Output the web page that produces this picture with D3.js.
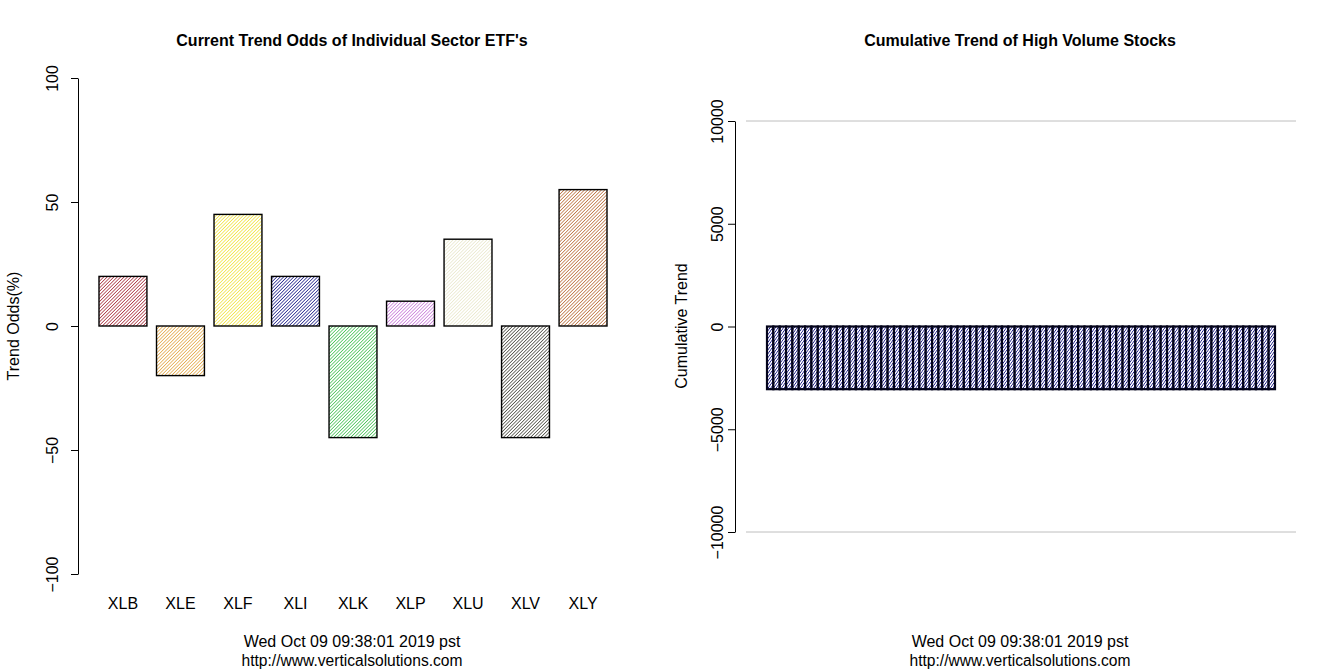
<!DOCTYPE html>
<html><head><meta charset="utf-8">
<script src="https://cdn.jsdelivr.net/npm/d3@7/dist/d3.min.js"></script>
<style>
html,body{margin:0;padding:0;background:#fff;}
text{font-family:"Liberation Sans",Arial,sans-serif;fill:#000;}
</style></head>
<body>
<svg id="c" width="1336" height="672"></svg>
<script>
// ---- data ----
const sectors = ["XLB","XLE","XLF","XLI","XLK","XLP","XLU","XLV","XLY"];
const trendOdds = [20, -20, 45, 20, -45, 10, 35, -45, 55];
const sectorColors = ["#9b1020","#e09a2a","#f0e020","#00007a","#28b83a","#c065d4","#e6e5c4","#2c2c22","#b05a20"];
const leftTicks = [-100, -50, 0, 50, 100];
const stockTrend = [
 -3050,-3050,-3050,-3050,-3050,-3050,-3050,-3050,-3050,-3050,
 -3050,-3050,-3050,-3050,-3050,-3050,-3050,-3050,-3050,-3050,
 -3050,-3050,-3050,-3050,-3050,-3050,-3050,-3050,-3050,-3050,
 -3050,-3050,-3050,-3050,-3050,-3050,-3050,-3050,-3050,-3050,
 -3050,-3050,-3050,-3050,-3050,-3050,-3050,-3050,-3050,-3050,
 -3050,-3050,-3050,-3050,-3050,-3050,-3050,-3050,-3050,-3050,
 -3050,-3050,-3050,-3050,-3050,-3050,-3050,-3050,-3050,-3050,
 -3050,-3050,-3050,-3050,-3050,-3050,-3050,-3050,-3050,-3050];
const rightTicks = [-10000, -5000, 0, 5000, 10000];
const stamp = "Wed Oct 09 09:38:01 2019 pst";
const url = "http://www.verticalsolutions.com";

const svg = d3.select("#c");
const defs = svg.append("defs");
function hatch(id, color, spacing, sw, ang){
  const p = defs.append("pattern").attr("id", id).attr("patternUnits","userSpaceOnUse")
    .attr("width", spacing).attr("height", spacing)
    .attr("patternTransform","rotate(" + ang + ")");
  p.append("rect").attr("width",spacing).attr("height",spacing).attr("fill","#fff");
  p.append("line").attr("x1",0).attr("y1",0).attr("x2",0).attr("y2",spacing)
    .attr("stroke",color).attr("stroke-width",sw);
}
sectorColors.forEach((c,i)=>hatch("h"+i, c, 2.4, 1.3, 45));
hatch("hn", "#0a0a80", 2.2, 1.4, 35);

const FS = 16;

// ---- left chart ----
const yL = d3.scaleLinear().domain([-100,100]).range([574,78]);
const xL = d3.scaleBand().domain(sectors).range([99, 607]).paddingInner(1/6).paddingOuter(0);
const gL = svg.append("g");
gL.selectAll("rect.bar").data(sectors).join("rect").attr("class","bar")
  .attr("x", d=>xL(d)).attr("width", xL.bandwidth())
  .attr("y", (d,i)=>yL(Math.max(0,trendOdds[i])))
  .attr("height", (d,i)=>Math.abs(yL(trendOdds[i])-yL(0)))
  .attr("fill",(d,i)=>"url(#h"+i+")").attr("stroke","#000").attr("stroke-width",1.4);

const axL = gL.append("g").attr("transform","translate(78,0)")
  .call(d3.axisLeft(yL).tickValues(leftTicks).tickSize(7).tickSizeOuter(0).tickFormat(d3.format("d")));
axL.select(".domain").attr("stroke","#000");
axL.selectAll(".tick line").attr("stroke","#000");
axL.selectAll(".tick text").attr("font-size",FS).attr("font-family","Liberation Sans, Arial")
  .attr("transform","rotate(-90)").attr("x",0).attr("y",-26).attr("dy","0.35em").attr("text-anchor","middle");

gL.selectAll("text.xl").data(sectors).join("text").attr("class","xl")
  .attr("x", d=>xL(d)+xL.bandwidth()/2).attr("y", 609).attr("text-anchor","middle")
  .attr("font-size",FS).text(d=>d);

gL.append("text").attr("x",352).attr("y",46).attr("text-anchor","middle")
  .attr("font-size",FS).attr("font-weight","bold").text("Current Trend Odds of Individual Sector ETF's");
gL.append("text").attr("transform","translate(19,326) rotate(-90)").attr("text-anchor","middle")
  .attr("font-size",FS).text("Trend Odds(%)");
gL.append("text").attr("x",352).attr("y",647).attr("text-anchor","middle").attr("font-size",FS).text(stamp);
gL.append("text").attr("x",352).attr("y",666).attr("text-anchor","middle").attr("font-size",15.6).text(url);

// ---- right chart ----
const yR = d3.scaleLinear().domain([-10000,10000]).range([532,121]);
const xR = d3.scaleBand().domain(d3.range(stockTrend.length)).range([767,1275]).padding(0);
const gR = svg.append("g");
gR.selectAll("line.grid").data([-10000,10000]).join("line").attr("class","grid")
  .attr("x1",746).attr("x2",1296).attr("y1",d=>yR(d)).attr("y2",d=>yR(d))
  .attr("stroke","#bebebe").attr("stroke-width",1);
gR.selectAll("rect.bar").data(stockTrend).join("rect").attr("class","bar")
  .attr("x",(d,i)=>xR(i)).attr("width",xR.bandwidth())
  .attr("y",d=>yR(Math.max(0,d))).attr("height",d=>Math.abs(yR(d)-yR(0)))
  .attr("fill","url(#hn)").attr("stroke","#03031a").attr("stroke-width",2.2);

const axR = gR.append("g").attr("transform","translate(735,0)")
  .call(d3.axisLeft(yR).tickValues(rightTicks).tickSize(7).tickSizeOuter(0).tickFormat(d3.format("d")));
axR.select(".domain").attr("stroke","#000");
axR.selectAll(".tick line").attr("stroke","#000");
axR.selectAll(".tick text").attr("font-size",FS).attr("font-family","Liberation Sans, Arial")
  .attr("transform","rotate(-90)").attr("x",0).attr("y",-18).attr("dy","0.35em").attr("text-anchor","middle");

gR.append("text").attr("x",1020).attr("y",46).attr("text-anchor","middle")
  .attr("font-size",FS).attr("font-weight","bold").text("Cumulative Trend of High Volume Stocks");
gR.append("text").attr("transform","translate(687,326) rotate(-90)").attr("text-anchor","middle")
  .attr("font-size",FS).text("Cumulative Trend");
gR.append("text").attr("x",1020).attr("y",647).attr("text-anchor","middle").attr("font-size",FS).text(stamp);
gR.append("text").attr("x",1020).attr("y",666).attr("text-anchor","middle").attr("font-size",15.6).text(url);
</script>
</body></html>
